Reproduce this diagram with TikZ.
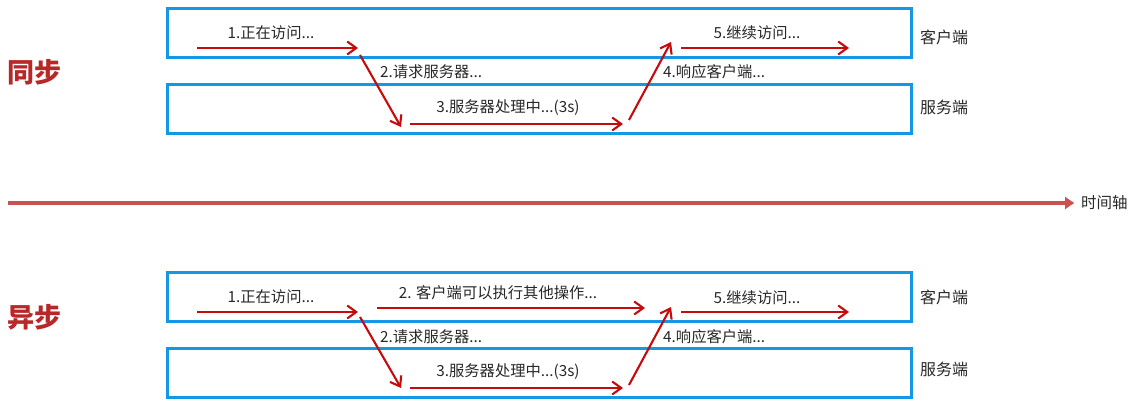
\documentclass[tikz,border=0pt]{standalone}
\usepackage{fontspec}
\setmainfont{Noto Sans CJK SC}
\usetikzlibrary{arrows.meta}
\definecolor{laneblue}{RGB}{20,152,230}
\definecolor{flowred}{RGB}{196,12,12}
\definecolor{axisred}{RGB}{202,82,78}
\definecolor{titlered}{RGB}{185,40,40}
\definecolor{txtgray}{RGB}{40,40,40}
\tikzset{
  lanebox/.style={draw=laneblue, line width=3pt, minimum width=744pt, minimum height=49pt, inner sep=0pt},
  flow/.style={draw=flowred, line width=2.1pt, -{Straight Barb[length=9pt,width=13pt,line width=2.1pt]}},
  steplabel/.style={font=\fontsize{15.3}{17}\selectfont, text=txtgray, inner sep=0pt},
  sidelabel/.style={font=\fontsize{16}{18}\selectfont, text=txtgray, anchor=west, inner sep=0pt},
  modetitle/.style={font=\fontsize{27}{30}\selectfont\bfseries, text=titlered, inner sep=0pt},
}
\begin{document}
\begin{tikzpicture}[x=1pt,y=-1pt]
\useasboundingbox (0,0) rectangle (1140,407);
\fill[white] (0,0) rectangle (1140,407);

% ---------- synchronous ----------
\node[modetitle] (sync) at (35,72) {同步};
\node[lanebox] (c1) at (539,32.5) {};
\node[lanebox] (s1) at (539,108.5) {};
\node[sidelabel] (c1l) at (920,37) {客户端};
\node[sidelabel] (s1l) at (920,107) {服务端};

\coordinate (p1a) at (197,48);  \coordinate (p1b) at (358,48);
\coordinate (p2a) at (360,55);  \coordinate (p2b) at (401,127);
\coordinate (p3a) at (410,124); \coordinate (p3b) at (623,124);
\coordinate (p4a) at (629,120); \coordinate (p4b) at (671,42);
\coordinate (p5a) at (681,48);  \coordinate (p5b) at (849,48);
\draw[flow] (p1a) -- (p1b);
\draw[flow] (p2a) -- (p2b);
\draw[flow] (p3a) -- (p3b);
\draw[flow] (p4a) -- (p4b);
\draw[flow] (p5a) -- (p5b);
\node[steplabel] (t1) at (271,33) {1.正在访问...};
\node[steplabel, anchor=west] (t2) at (380,72) {2.请求服务器...};
\node[steplabel] (t3) at (508,108) {3.服务器处理中...(3s)};
\node[steplabel, anchor=west] (t4) at (663,72) {4.响应客户端...};
\node[steplabel] (t5) at (757,33) {5.继续访问...};

% ---------- time axis ----------
\coordinate (ax0) at (8,203);
\coordinate (ax1) at (1074,203);
\draw[black!12, line width=4pt, shift={(0pt,-2.5pt)}] (ax0) -- (ax1);
\draw[axisred, line width=4pt, -{Triangle[length=9pt,width=12pt]}] (ax0) -- (ax1);
\node[sidelabel, font=\fontsize{15.5}{17}\selectfont] (axl) at (1081,203) {时间轴};

% ---------- asynchronous ----------
\node[modetitle] (async) at (35,317) {异步};
\node[lanebox] (c2) at (539,296.5) {};
\node[lanebox] (s2) at (539,372.5) {};
\node[sidelabel] (c2l) at (920,297) {客户端};
\node[sidelabel] (s2l) at (920,369) {服务端};

\coordinate (q1a) at (197,312);  \coordinate (q1b) at (358,312);
\coordinate (qxa) at (377,308);  \coordinate (qxb) at (645,308);
\coordinate (q2a) at (360,317);  \coordinate (q2b) at (401,388);
\coordinate (q3a) at (410,388);  \coordinate (q3b) at (623,388);
\coordinate (q4a) at (629,385);  \coordinate (q4b) at (671,307);
\coordinate (q5a) at (681,312);  \coordinate (q5b) at (849,312);
\draw[flow] (q1a) -- (q1b);
\draw[flow] (qxa) -- (qxb);
\draw[flow] (q2a) -- (q2b);
\draw[flow] (q3a) -- (q3b);
\draw[flow] (q4a) -- (q4b);
\draw[flow] (q5a) -- (q5b);
\node[steplabel] (u1) at (271,297) {1.正在访问...};
\node[steplabel] (ux) at (498,293) {2. 客户端可以执行其他操作...};
\node[steplabel, anchor=west] (u2) at (380,337) {2.请求服务器...};
\node[steplabel] (u3) at (508,372) {3.服务器处理中...(3s)};
\node[steplabel, anchor=west] (u4) at (663,337) {4.响应客户端...};
\node[steplabel] (u5) at (757,298) {5.继续访问...};
\end{tikzpicture}
\end{document}
